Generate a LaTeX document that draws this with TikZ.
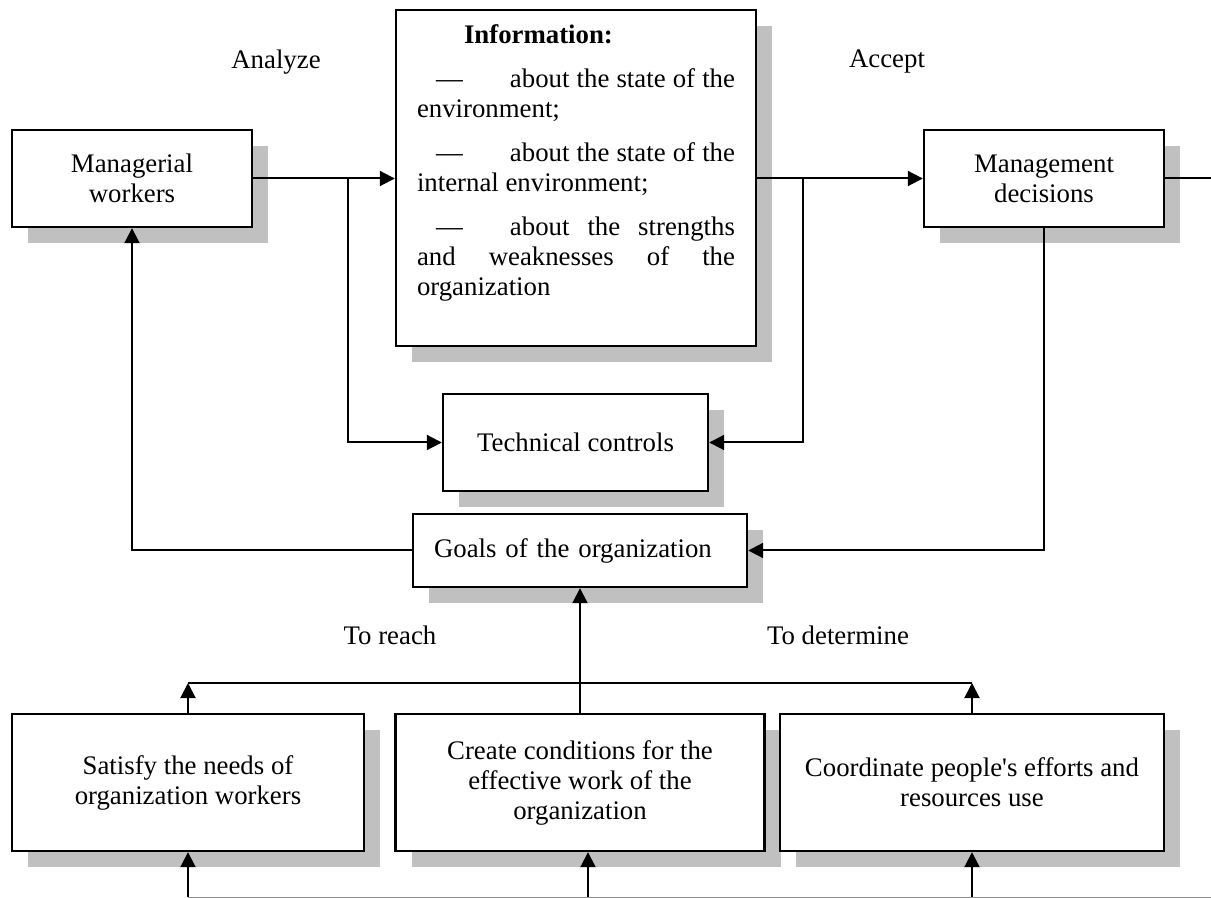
\documentclass[tikz,border=0pt]{standalone}
\usepackage{fontspec}
\setmainfont{Liberation Serif}
\usetikzlibrary{arrows.meta,shadows}
\newdimen\pxu \pxu=0.5pt
\definecolor{shadegray}{RGB}{192,192,192}

\begin{document}
\begin{tikzpicture}[x=0.5pt,y=-0.5pt]
\tikzset{
	box/.style={draw,
		line width=1.2pt,
		fill=white,
		drop shadow={shadow xshift=8pt, shadow yshift=-8pt, fill=shadegray, opacity=1},
		align=center,
		inner sep=0pt,
		font=\fontsize{13.4}{15}\selectfont},
	lbl/.style={font=\fontsize{13.4}{15}\selectfont, inner sep=0pt},
	arr/.style={-{Triangle[length=7.5pt, width=7.5pt]}, line width=1pt},
	link/.style={line width=1pt},
}
\useasboundingbox (0,0) rectangle (1211,898);
% top row
\node[box, minimum width=240\pxu, minimum height=97\pxu] (MGRW) at (132,178.5) {Managerial\\workers};
\node[box, minimum width=360\pxu, minimum height=336\pxu, text width=318\pxu, align=justify] (INFO) at (576,178) {\parindent=0pt\parskip=7pt%
\hspace*{47\pxu}\textbf{Information:}\par
\hspace*{19\pxu}\makebox[74\pxu][l]{—}about the state of the\linebreak environment;\par
\hspace*{19\pxu}\makebox[74\pxu][l]{—}about the state of the\linebreak internal environment;\par
\hspace*{19\pxu}\makebox[74\pxu][l]{—}about the strengths\linebreak and weaknesses of the\linebreak organization\par
\vspace{5\pxu}\null};
\node[box, minimum width=240\pxu, minimum height=97\pxu] (MGMD) at (1044,178.5) {Management\\decisions};
\node[lbl] (ANLBL) at (276,62) {Analyze};
\node[lbl] (ACCLBL) at (887,62) {Accept};
% middle
\node[box, minimum width=265\pxu, minimum height=97\pxu] (TECH) at (575.5,442.5) {Technical controls};
\node[box, minimum width=334\pxu, minimum height=73\pxu, text width=292\pxu, align=left] (GOAL) at (580,550.5) {Goals of the organization};
\node[lbl] (REACHLBL) at (390,635) {To reach};
\node[lbl] (DETLBL) at (838,635) {To determine};
% bottom row
\node[box, minimum width=352\pxu, minimum height=137\pxu] (NEEDS) at (188,782.5) {Satisfy the needs of\\organization workers};
\node[box, minimum width=369\pxu, minimum height=137\pxu] (COND) at (580,782.5) {Create conditions for the\\effective work of the\\organization};
\node[box, minimum width=384\pxu, minimum height=137\pxu] (COORD) at (972,782.5) {Coordinate people\textquotesingle s efforts and\\resources use};

\coordinate (JL) at (348,178.5);
\coordinate (JR) at (803,178.5);
\coordinate (EDGE) at (1211,178.5);
\coordinate (HUBL) at (188,683);
\coordinate (HUBR) at (972,683);
\coordinate (BASEL) at (188,897);
\coordinate (BASEM) at (588,897);
\coordinate (BASER) at (1211,897);

{\draw[arr] (MGRW.east) -- (MGRW.east -| INFO.west);}
{\draw[arr] (JL) |- (TECH.west);}
{\draw[arr] (INFO.east |- MGMD.west) -- (MGMD.west);}
{\draw[arr] (JR) |- (TECH.east);}
{\draw[link] (MGMD.east) -- (EDGE);}
{\draw[arr] (GOAL.west) -| (MGRW.south);}
{\draw[arr] (MGMD.south) |- (GOAL.east);}
{\draw[arr] (COND.north) -- (GOAL.south);}
{\draw[link] (HUBL) -- (HUBR);}
{\draw[arr] (NEEDS.north) -- (HUBL);}
{\draw[arr] (COORD.north) -- (HUBR);}
{\draw[line width=0.5pt, black!45] (BASEL) -- (BASER);}
{\draw[arr] (BASEL) -- (NEEDS.south);}
{\draw[arr] (BASEM) -- (BASEM |- COND.south);}
{\draw[arr] (COORD.south |- BASEL) -- (COORD.south);}
\end{tikzpicture}
\end{document}
